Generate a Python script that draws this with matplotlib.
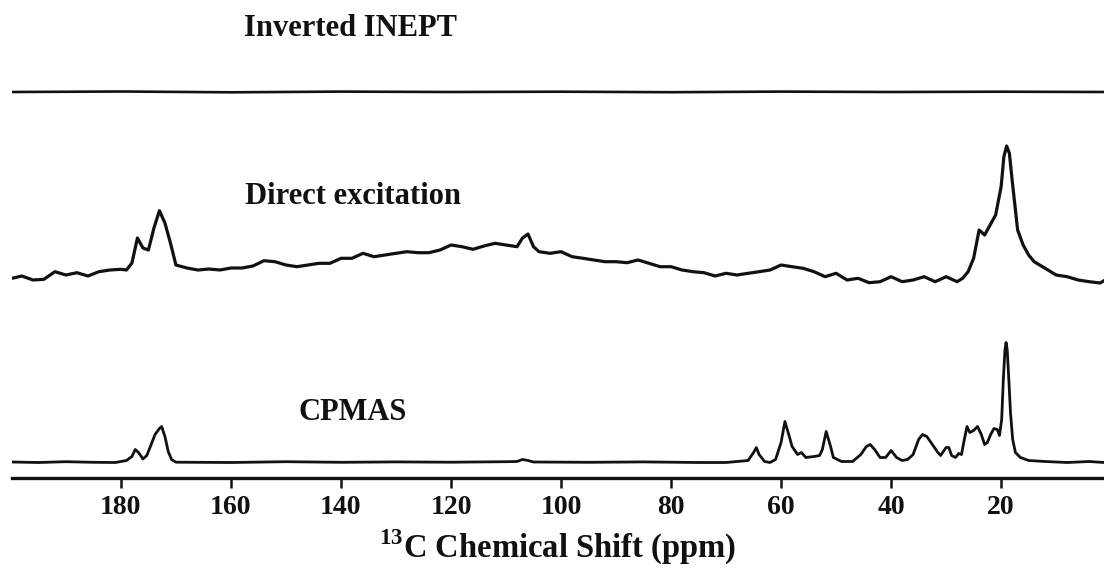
import matplotlib
matplotlib.use("Agg")
import matplotlib.pyplot as plt

plt.rcParams['font.family'] = ['Liberation Serif', 'DejaVu Serif']
plt.rcParams['font.weight'] = 'bold'
plt.rcParams['mathtext.fontset'] = 'custom'
plt.rcParams['mathtext.bf'] = 'Liberation Serif:bold'
plt.rcParams['mathtext.rm'] = 'Liberation Serif:bold'

# Direct excitation trace, intensity read every ~2 ppm (finer over the peaks)
de_ppm = [199.8, 198, 196, 194, 192, 190, 188, 186, 184, 182, 180, 179, 178, 177,
          176, 175, 174, 173, 172, 171, 170, 168, 166, 164, 162, 160, 158, 156,
          154, 152, 150, 148, 146, 144, 142, 140, 138, 136, 134, 132, 130, 128,
          126, 124, 122, 120, 118, 116, 114, 112, 110, 108, 107, 106, 105, 104,
          102, 100, 98, 96, 94, 92, 90, 88, 86, 84, 82, 80, 78, 76, 74, 72, 70,
          68, 66, 64, 62, 60, 58, 56, 54, 52, 50, 48, 46, 44, 42, 40, 38, 36, 34,
          32, 30, 28, 27, 26, 25, 24, 23, 22, 21, 20, 19.5, 19, 18.5, 18, 17, 16,
          15, 14, 12, 10, 8, 6, 4, 2, 1.3]
de_int = [4.7, 7.0, 3.0, 3.7, 11.3, 8.0, 10.3, 7.0, 11.3, 13.0, 13.7, 13.0, 20.0,
          45.0, 35.0, 33.0, 55.0, 72.3, 60.0, 40.0, 18.0, 15.0, 13.0, 14.0, 13.0,
          15.0, 15.0, 17.0, 22.3, 21.3, 18.0, 16.3, 18.0, 19.7, 19.7, 24.7, 24.7,
          29.7, 26.3, 28.0, 29.7, 31.3, 30.3, 30.3, 33.0, 38.0, 36.3, 33.7, 37.0,
          39.7, 38.0, 36.3, 45.0, 49.0, 36.3, 31.3, 29.7, 31.3, 26.3, 24.7, 23.0,
          21.3, 21.3, 20.3, 23.0, 19.7, 16.3, 16.3, 13.0, 11.3, 10.3, 7.0, 9.7,
          8.0, 9.7, 11.3, 13.0, 18.0, 16.3, 14.7, 11.3, 6.3, 9.7, 3.0, 4.7, 0.3,
          1.3, 6.3, 1.3, 3.0, 6.3, 1.3, 6.3, 1.3, 4.7, 11.3, 24.7, 53.0, 48.0,
          58.0, 68.0, 96.3, 126.3, 137.0, 129.7, 103.0, 53.0, 38.0, 28.0, 21.3,
          14.7, 8.0, 6.3, 3.0, 1.3, 0.0, 2.3]

# CPMAS trace
cp_ppm = [199.8, 195, 190, 185, 181, 179, 178, 177.4, 176.8, 176, 175.3, 174.5,
          173.8, 173, 172.6, 172, 171.4, 170.8, 170, 160, 150, 140, 130, 120, 110,
          108, 107, 106, 105, 95, 85, 75, 70, 66, 65, 64.5, 64, 63, 62, 61, 60,
          59.3, 58.5, 58, 57, 56.3, 55.5, 54, 53, 52.5, 51.8, 51, 50.5, 49, 47,
          45.5, 44.5, 43.8, 43, 42, 41, 40, 39, 38, 37, 36, 35, 34.3, 33.5, 32.5,
          31.5, 31, 30, 29.5, 29, 28.3, 27.7, 27.2, 26.8, 26.2, 25.7, 25, 24.3,
          23.6, 23, 22.5, 21.9, 21.3, 20.7, 20.3, 19.9, 19.6, 19.3, 19.1, 18.9,
          18.6, 18.3, 17.9, 17.4, 16.5, 15, 12, 8, 4, 1.3]
cp_int = [0.5, 0.0, 0.8, 0.2, 0.0, 2.0, 6.0, 13.0, 10.0, 3.5, 7.0, 18.0, 28.0,
          34.0, 36.0, 26.0, 11.0, 3.0, 0.3, 0.0, 0.8, 0.2, 0.6, 0.3, 0.8, 1.0, 3.0,
          2.0, 0.5, 0.2, 0.6, 0.0, 0.0, 2.0, 10.0, 15.0, 8.0, 1.0, 0.0, 3.0, 20.0,
          41.0, 26.0, 16.0, 8.0, 10.0, 5.0, 6.0, 7.0, 13.0, 31.0, 16.0, 5.0, 1.0,
          1.0, 8.0, 16.0, 18.0, 13.0, 5.0, 5.0, 12.0, 5.0, 2.0, 3.0, 8.0, 23.0,
          28.0, 26.0, 18.0, 10.0, 7.0, 15.0, 15.0, 7.0, 5.0, 9.0, 8.0, 20.0, 36.0,
          30.0, 32.0, 36.0, 28.0, 18.0, 20.0, 28.0, 34.0, 33.0, 27.0, 43.0, 83.0,
          113.0, 120.0, 113.0, 83.0, 50.0, 23.0, 10.0, 5.0, 2.0, 1.0, 0.0, 1.0, 0.0]

# Inverted INEPT trace (essentially flat)
in_ppm = [199.8, 180, 160, 140, 120, 100, 80, 60, 40, 20, 1.3]
in_int = [0.0, 0.5, -0.3, 0.4, 0.0, 0.3, -0.2, 0.4, 0.0, 0.3, 0.0]

tick_vals = [180, 160, 140, 120, 100, 80, 60, 40, 20]

W, H = 1104, 572
fig = plt.figure(figsize=(W / 100, H / 100), dpi=100)
ax = fig.add_axes([12 / W, (H - 478) / H, 1 - 12 / W, 478 / H])

# vertical offsets of the stacked spectra
off_cp, off_de, off_in = 15.5, 195.0, 386.0
ax.plot(cp_ppm, [v + off_cp for v in cp_int], color='#111111', lw=2.0,
        solid_joinstyle='round')
ax.plot(de_ppm, [v + off_de for v in de_int], color='#111111', lw=2.3,
        solid_joinstyle='round')
ax.plot(in_ppm, [v + off_in for v in in_int], color='#111111', lw=1.9)

ax.set_xlim(199.8, 1.3)
ax.set_ylim(0, 478)
for s in ['top', 'left', 'right']:
    ax.spines[s].set_visible(False)
ax.spines['bottom'].set_linewidth(2.4)
ax.spines['bottom'].set_color('#111111')
ax.set_yticks([])
ax.set_xticks(tick_vals)
ax.set_xticklabels([str(t) for t in tick_vals], fontsize=20, fontweight='bold')
ax.tick_params(axis='x', length=7, width=1.8, pad=5, colors='#111111')

fig.text(351 / W, 1 - 29 / H, 'Inverted INEPT', ha='center', va='center',
         fontsize=22, fontweight='bold', color='#111111')
fig.text(353 / W, 1 - 197 / H, 'Direct excitation', ha='center', va='center',
         fontsize=22, fontweight='bold', color='#111111')
fig.text(353 / W, 1 - 412 / H, 'CPMAS', ha='center', va='center',
         fontsize=22, fontweight='bold', color='#111111')
fig.text(558 / W, 1 - 547 / H, r'$^{\mathbf{13}}$C Chemical Shift (ppm)',
         ha='center', va='center', fontsize=23.5, fontweight='bold', color='#111111')

fig.savefig('out.png', dpi=100)
